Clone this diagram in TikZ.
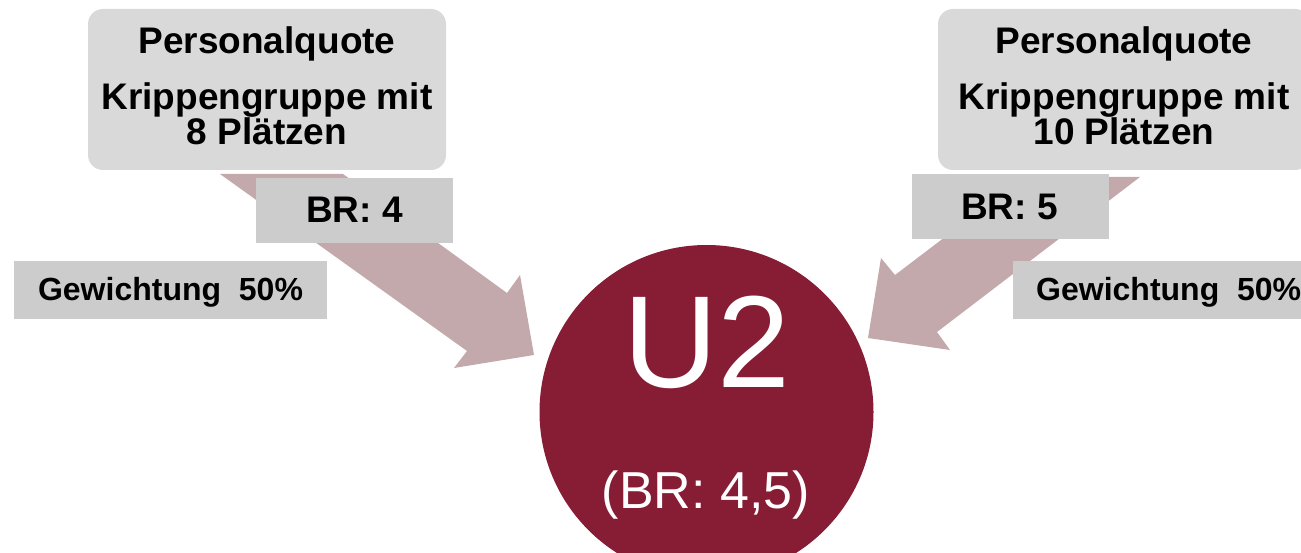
\documentclass[tikz,border=0pt]{standalone}
\usepackage{fontspec}
\setmainfont{Liberation Sans}
\definecolor{topgray}{HTML}{D9D9D9}
\definecolor{labgray}{HTML}{CCCCCC}
\definecolor{arrowpink}{HTML}{C3A9AC}
\definecolor{wine}{HTML}{861D34}
\newcommand\mytightlines{\lineskiplimit=-100pt\relax\lineskip=0pt\relax}
\begin{document}
\begin{tikzpicture}[x=1pt,y=-1pt,
  topbox/.style={fill=topgray, rounded corners=15pt, inner sep=0pt},
  labbox/.style={fill=labgray, inner sep=0pt},
  bigarrow/.style={fill=arrowpink},
  headtext/.style={font=\fontsize{37}{35}\selectfont\bfseries\mytightlines,
                   align=center, anchor=south, inner sep=0pt},
  brtext/.style={font=\fontsize{37}{37}\selectfont\bfseries, anchor=base, inner sep=0pt},
  gewtext/.style={font=\fontsize{32}{32}\selectfont\bfseries, anchor=base, inner sep=0pt},
  circtext/.style={text=white, anchor=base, inner sep=0pt}]
\useasboundingbox (0,0) rectangle (1301,553);
\clip (0,0) rectangle (1301,553);
% left block arrow
\coordinate (la1) at (220,174);
\coordinate (la2) at (343,174);
\coordinate (la3) at (507,293);
\coordinate (la4) at (520,275);
\coordinate (la5) at (534,355);
\coordinate (la6) at (454,368);
\coordinate (la7) at (467,351);
\fill[bigarrow] (la1) -- (la2) -- (la3) -- (la4) -- (la5) -- (la6) -- (la7) -- cycle;
% right block arrow
\coordinate (ra1) at (1024,177);
\coordinate (ra2) at (1140,177);
\coordinate (ra3) at (937,332);
\coordinate (ra4) at (950,350);
\coordinate (ra5) at (868,338);
\coordinate (ra6) at (881,258);
\coordinate (ra7) at (895,275);
\fill[bigarrow] (ra1) -- (ra2) -- (ra3) -- (ra4) -- (ra5) -- (ra6) -- (ra7) -- cycle;
% top boxes
\node[topbox, minimum width=358pt, minimum height=161pt] (lbox) at (267,89.5) {};
\node[headtext] (ltext) at (267,145) {Personalquote\\[20.5pt]Krippengruppe mit\\8 Plätzen};
\node[topbox, minimum width=372pt, minimum height=161pt] (rbox) at (1124,89.5) {};
\node[headtext] (rtext) at (1124,145) {Personalquote\\[20.5pt]Krippengruppe mit\\10 Plätzen};
% BR boxes
\node[labbox, minimum width=197pt, minimum height=65pt] (brl) at (354.5,210.5) {};
\node[brtext] (brlt) at (354.5,223) {BR: 4};
\node[labbox, minimum width=197pt, minimum height=65pt] (brr) at (1010.5,206.5) {};
\node[brtext] (brrt) at (1009.5,220) {BR: 5};
% weighting boxes
\node[labbox, minimum width=313pt, minimum height=58pt] (gl) at (170.5,290) {};
\node[gewtext] (glt) at (170.5,301) {Gewichtung\ \ 50\%};
\node[labbox, minimum width=313pt, minimum height=58pt] (gr) at (1169.5,290) {};
\node[gewtext, anchor=base west] (grt) at (1036,301) {Gewichtung\ \ 50\%};
% circle
\node[circle, fill=wine, minimum size=334pt, inner sep=0pt] (u2) at (706.5,412) {};
\node[circtext, font=\fontsize{131}{131}\selectfont] (u2t) at (707,387) {U2};
\node[circtext, font=\fontsize{52}{52}\selectfont] (u2b) at (706,508) {(BR: 4,5)};
\end{tikzpicture}
\end{document}
